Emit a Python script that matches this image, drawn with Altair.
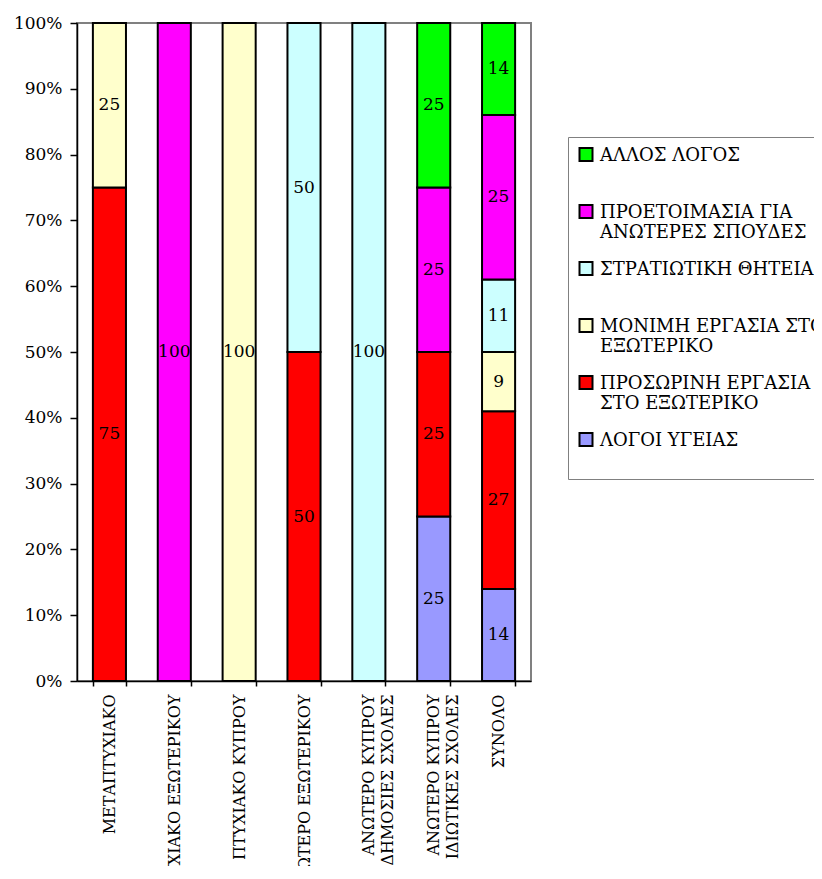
import altair as alt
import pandas as pd

categories = [
    "ΜΕΤΑΠΤΥΧΙΑΚΟ",
    "ΠΤΥΧΙΑΚΟ ΕΞΩΤΕΡΙΚΟΥ",
    "ΠΤΥΧΙΑΚΟ ΚΥΠΡΟΥ",
    "ΑΝΩΤΕΡΟ ΕΞΩΤΕΡΙΚΟΥ",
    "ΑΝΩΤΕΡΟ ΚΥΠΡΟΥ\nΔΗΜΟΣΙΕΣ ΣΧΟΛΕΣ",
    "ΑΝΩΤΕΡΟ ΚΥΠΡΟΥ\nΙΔΙΩΤΙΚΕΣ ΣΧΟΛΕΣ",
    "ΣΥΝΟΛΟ",
]

# series listed bottom -> top of the stack
series_names = [
    "ΛΟΓΟΙ ΥΓΕΙΑΣ",
    "ΠΡΟΣΩΡΙΝΗ ΕΡΓΑΣΙΑ\nΣΤΟ ΕΞΩΤΕΡΙΚΟ",
    "ΜΟΝΙΜΗ ΕΡΓΑΣΙΑ ΣΤΟ\nΕΞΩΤΕΡΙΚΟ",
    "ΣΤΡΑΤΙΩΤΙΚΗ ΘΗΤΕΙΑ",
    "ΠΡΟΕΤΟΙΜΑΣΙΑ ΓΙΑ\nΑΝΩΤΕΡΕΣ ΣΠΟΥΔΕΣ",
    "ΑΛΛΟΣ ΛΟΓΟΣ",
]
series_colors = ["#9999FF", "#FF0000", "#FFFFCC", "#CCFFFF", "#FF00FF", "#00FF00"]

logoi_ygeias = [0, 0, 0, 0, 0, 25, 14]
prosorini = [75, 0, 0, 50, 0, 25, 27]
monimi = [25, 0, 100, 0, 0, 0, 9]
stratiotiki = [0, 0, 0, 50, 100, 0, 11]
proetoimasia = [0, 100, 0, 0, 0, 25, 25]
allos = [0, 0, 0, 0, 0, 25, 14]

series_values = [logoi_ygeias, prosorini, monimi, stratiotiki, proetoimasia, allos]

rows = []
for si, (name, vals) in enumerate(zip(series_names, series_values)):
    for ci, v in enumerate(vals):
        if v:
            rows.append({"cat": categories[ci], "series": name, "value": v, "ord": si})
df = pd.DataFrame(rows)

font = "DejaVu Serif"
legend_domain = list(reversed(series_names))
legend_range = list(reversed(series_colors))

x_enc = alt.X(
    "cat:N",
    sort=categories,
    scale=alt.Scale(paddingInner=0.49, paddingOuter=0.245),
    axis=alt.Axis(
        title=None,
        labelAngle=270,
        labelFont=font,
        labelFontSize=16,
        labelColor="black",
        labelLineHeight=19,
        labelPadding=8,
        labelLimit=300,
        labelExpr="split(datum.label, '\\n')",
        tickBand="extent",
        tickSize=5,
        tickColor="#000000",
        domainColor="#000000",
        domainWidth=1.5,
        tickWidth=1.5,
    ),
)

bars = alt.Chart(df).mark_bar(stroke="black", strokeWidth=2).encode(
    x=x_enc,
    y=alt.Y(
        "value:Q",
        stack="zero",
        scale=alt.Scale(domain=[0, 100]),
        axis=alt.Axis(
            title=None,
            values=[0, 10, 20, 30, 40, 50, 60, 70, 80, 90, 100],
            labelExpr="datum.value + '%'",
            labelFont=font,
            labelFontSize=17,
            labelColor="black",
            labelPadding=8,
            tickSize=7,
            tickColor="#000000",
            domainColor="#000000",
            domainWidth=1.5,
            tickWidth=1.5,
            grid=False,
        ),
    ),
    color=alt.Color(
        "series:N",
        scale=alt.Scale(domain=legend_domain, range=legend_range),
        legend=alt.Legend(
            orient="none",
            legendX=491,
            legendY=114,
            title=" ",
            titleFontSize=2,
            titlePadding=4,
            symbolType="M-1,-2H1V0H-1Z",
            symbolSize=169,
            symbolStrokeColor="black",
            symbolStrokeWidth=2,
            symbolOpacity=1,
            labelFont=font,
            labelFontSize=18,
            labelColor="black",
            labelLimit=400,
            labelBaseline="alphabetic",
            labelOffset=5,
            rowPadding=16,
            padding=9,
            strokeColor="#808080",
            fillColor="white",
            labelExpr="indexof(datum.label, '\\n') >= 0 ? split(datum.label, '\\n') : [datum.label, ' ']",
        ),
    ),
    order=alt.Order("ord:Q"),
)

labels = (
    alt.Chart(df)
    .transform_stack(stack="value", groupby=["cat"], as_=["v0", "v1"], sort=[alt.SortField("ord")])
    .transform_calculate(mid="(datum.v0 + datum.v1) / 2")
    .mark_text(font=font, fontSize=17, color="black", baseline="middle", align="center")
    .encode(
        x=alt.X("cat:N", sort=categories),
        y=alt.Y("mid:Q"),
        text=alt.Text("value:Q"),
    )
)

chart = (
    alt.layer(bars, labels)
    .properties(
        width=454,
        height=658,
        autosize="none",
        padding={"left": 69, "top": 15, "right": 283, "bottom": 185},
    )
    .configure_view(stroke="#808080", strokeWidth=2)
)

chart.save("out.html", embed_options={"renderer": "svg", "actions": False})
